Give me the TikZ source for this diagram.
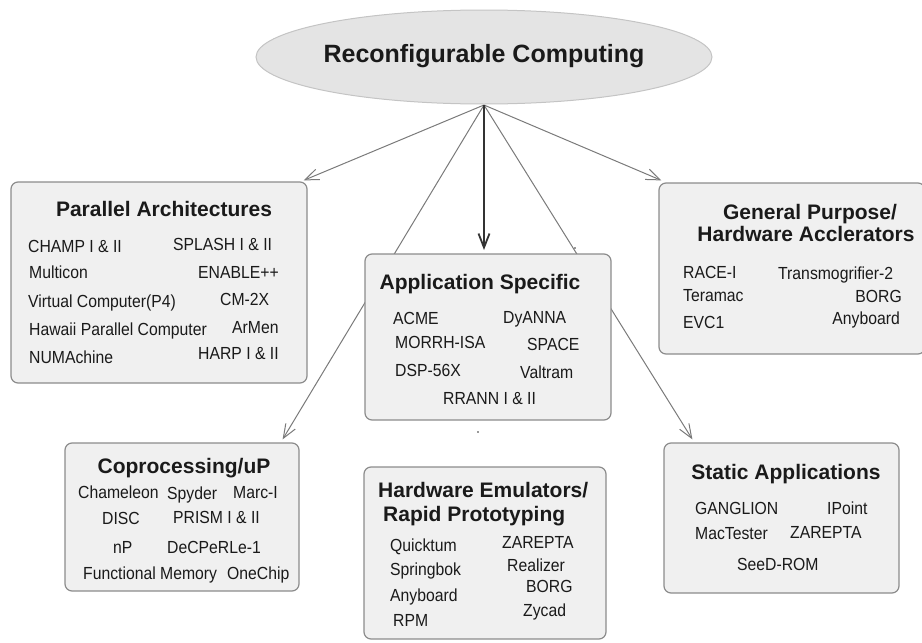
\documentclass[tikz,border=0pt]{standalone}
\usepackage{fontspec}
\setmainfont{Liberation Sans}
\newfontfamily\itemfont[FakeStretch=0.9]{Liberation Sans}
\usetikzlibrary{arrows.meta,calc,shapes.geometric}
\pgfdeclarelayer{background}
\pgfsetlayers{background,main}
\definecolor{boxfill}{HTML}{F0F0F0}
\definecolor{boxline}{HTML}{8C8C8C}
\definecolor{ellfill}{HTML}{E4E4E4}
\definecolor{ellline}{HTML}{C4C4C4}
\definecolor{arrowgray}{HTML}{7A7A7A}
\definecolor{darkarrow}{HTML}{333333}
\definecolor{txt}{HTML}{1A1A1A}
\begin{document}
\begin{tikzpicture}[x=1pt,y=-1pt,
 box/.style={draw=boxline, fill=boxfill, rounded corners=7pt, line width=1.2pt, inner sep=0pt},
 ttl/.style={font=\fontsize{21}{24}\selectfont\bfseries, text=txt, inner sep=0pt, text height=15pt, text depth=0pt},
 itm/.style={font=\itemfont\fontsize{17.5}{20}\selectfont, text=txt, inner sep=0pt, anchor=west, text height=12.6pt, text depth=0pt},
 conn/.style={draw=arrowgray, line width=1pt, -{Straight Barb[length=14pt,width=11pt]}},
 mainconn/.style={draw=darkarrow, line width=1.8pt, -{Straight Barb[length=14pt,width=11pt]}},
]
\useasboundingbox (0,0) rectangle (922,643);

% root
\node[ellipse, draw=ellline, fill=ellfill, line width=1pt, minimum width=456pt, minimum height=94pt, inner sep=0pt] (root) at (484,57) {};
\node[font=\fontsize{25}{28}\selectfont\bfseries, text=txt, inner sep=0pt, text height=18pt, text depth=0pt] (rtitle) at (484,53) {Reconfigurable Computing};

% boxes
\node[box, minimum width=296pt, minimum height=201pt] (par) at (159,282.5) {};
\node[box, minimum width=266pt, minimum height=171pt] (gen) at (792,268.5) {};
\node[box, minimum width=246pt, minimum height=166pt] (app) at (488,337) {};
\node[box, minimum width=234pt, minimum height=148pt] (cop) at (182,517) {};
\node[box, minimum width=242pt, minimum height=172pt] (hwe) at (485,553) {};
\node[box, minimum width=235pt, minimum height=150pt] (sta) at (781.5,518) {};

% connectors
\coordinate (rs) at (484,105);
\coordinate (tpar) at ($(par.north east)+(-4,-1)$);
\coordinate (tgen) at ($(gen.north west)+(3,-2)$);
\coordinate (tapp) at (484,250);
\coordinate (tcop) at ($(cop.north east)+(-17,-3)$);
\coordinate (tsta) at ($(sta.north west)+(29,-3)$);
\begin{pgfonlayer}{background}
\draw[conn] (rs) -- (tpar);
\draw[conn] (rs) -- (tgen);
\draw[conn] (rs) -- (tcop);
\draw[conn] (rs) -- (tsta);
\draw[mainconn] (rs) -- (tapp);
\end{pgfonlayer}
\fill[darkarrow] (575,248) circle (0.9pt);
\fill[darkarrow] (478,432) circle (0.9pt);

% Parallel Architectures
\node[ttl] (parT) at (164,209) {Parallel Architectures};
\node[itm] (p1) at (28,246) {CHAMP I \& II};
\node[itm] (p2) at (173,244) {SPLASH I \& II};
\node[itm] (p3) at (29,272) {Multicon};
\node[itm] (p4) at (198,272) {ENABLE++};
\node[itm] (p5) at (28,301) {Virtual Computer(P4)};
\node[itm] (p6) at (220,299) {CM-2X};
\node[itm] (p7) at (29,329) {Hawaii Parallel Computer};
\node[itm] (p8) at (232,327) {ArMen};
\node[itm] (p9) at (29,357) {NUMAchine};
\node[itm] (p10) at (198,353) {HARP I \& II};

% General Purpose
\node[ttl] (genT1) at (810,212) {General Purpose/};
\node[ttl] (genT2) at (806,234) {Hardware Acclerators};
\node[itm] (g1) at (683,272) {RACE-I};
\node[itm] (g2) at (778,273) {Transmogrifier-2};
\node[itm] (g3) at (683,295) {Teramac};
\node[itm, anchor=east] (g4) at (902,296) {BORG};
\node[itm] (g5) at (683,322) {EVC1};
\node[itm, anchor=east] (g6) at (900,318) {Anyboard};

% Application Specific
\node[ttl] (appT) at (480,282) {Application Specific};
\node[itm] (a1) at (393,318) {ACME};
\node[itm] (a2) at (503,317) {DyANNA};
\node[itm] (a3) at (395,342) {MORRH-ISA};
\node[itm] (a4) at (527,344) {SPACE};
\node[itm] (a5) at (395,370) {DSP-56X};
\node[itm] (a6) at (520,372) {Valtram};
\node[itm] (a7) at (443,398) {RRANN I \& II};

% Coprocessing
\node[ttl] (copT) at (184,466) {Coprocessing/uP};
\node[itm] (c1) at (78,492) {Chameleon};
\node[itm] (c2) at (167,493) {Spyder};
\node[itm] (c3) at (233,492) {Marc-I};
\node[itm] (c4) at (102,518) {DISC};
\node[itm] (c5) at (173,517) {PRISM I \& II};
\node[itm] (c6) at (113,547) {nP};
\node[itm] (c7) at (167,547) {DeCPeRLe-1};
\node[itm] (c8) at (83,573) {Functional Memory};
\node[itm] (c9) at (227,573) {OneChip};

% Hardware Emulators
\node[ttl, anchor=west] (hweT1) at (378,490) {Hardware Emulators/};
\node[ttl, anchor=west] (hweT2) at (383,514) {Rapid Prototyping};
\node[itm] (h1) at (390,545) {Quicktum};
\node[itm] (h2) at (502,542) {ZAREPTA};
\node[itm] (h3) at (390,569) {Springbok};
\node[itm] (h4) at (507,565) {Realizer};
\node[itm] (h5) at (526,586) {BORG};
\node[itm] (h6) at (390,595) {Anyboard};
\node[itm] (h7) at (523,610) {Zycad};
\node[itm] (h8) at (393,620) {RPM};

% Static Applications
\node[ttl] (staT) at (786,472) {Static Applications};
\node[itm] (s1) at (695,508) {GANGLION};
\node[itm] (s2) at (827,508) {IPoint};
\node[itm] (s3) at (695,533) {MacTester};
\node[itm] (s4) at (790,532) {ZAREPTA};
\node[itm] (s5) at (737,564) {SeeD-ROM};
\end{tikzpicture}
\end{document}
